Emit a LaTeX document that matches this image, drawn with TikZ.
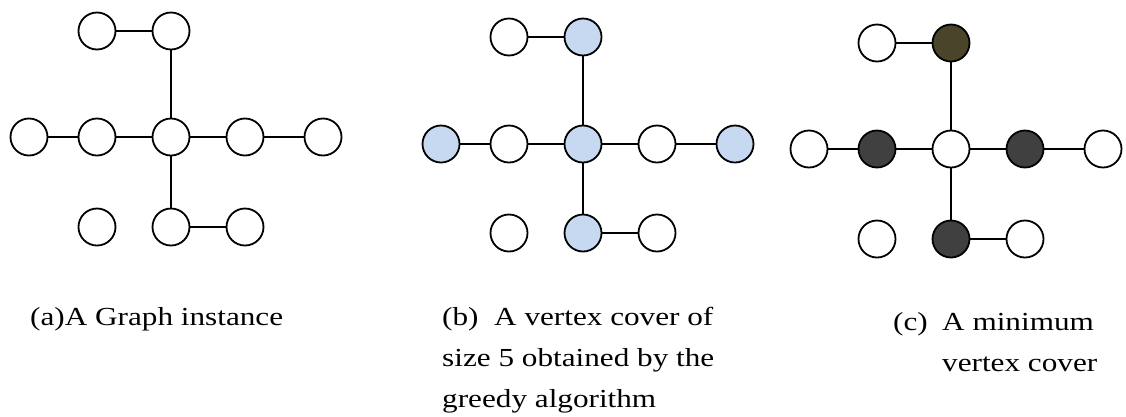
\documentclass[tikz,border=0pt]{standalone}
\usepackage{fontspec}
\usepackage{xcolor}
\usepackage{tikz}
\usetikzlibrary{positioning}
\setmainfont{Liberation Serif}
\newfontfamily\capfont[FakeStretch=1.2]{Liberation Serif}
\definecolor{coverblue}{HTML}{C6D9F1}
\definecolor{covergray}{HTML}{404040}
\definecolor{coverolive}{HTML}{4A442A}

\begin{document}
\begin{tikzpicture}[
    x=1pt, y=1pt,
    on grid, node distance=74pt,
    vtx/.style={circle, draw=black, fill=white, line width=1.8pt, minimum size=37pt, inner sep=0pt},
    greedy/.style={vtx, fill=coverblue},
    optimal/.style={vtx, fill=covergray},
    link/.style={line width=1.7pt},
    captxt/.style={font={\capfont\fontsize{26pt}{41pt}\selectfont}, align=left, inner sep=0pt, anchor=base west}
]
    \useasboundingbox (0,0) rectangle (1126,-416);

    % Graph (a): the instance
    \node (ac) [vtx] at (171,-137) {};
    \node (al) [vtx, left=of ac] {};
    \node (all) [vtx, left=68pt of al] {};
    \node (ar) [vtx, right=of ac] {};
    \node (arr) [vtx, right=78pt of ar] {};
    \node (at) [vtx, above=106pt of ac] {};
    \node (atl) [vtx, left=of at] {};
    \node (ab) [vtx, below=90pt of ac] {};
    \node (abr) [vtx, right=of ab] {};
    \node (abl) [vtx, left=of ab] {};
    \draw [link] (atl) -- (at) -- (ac) -- (ab) -- (abr);
    \draw [link] (all) -- (al) -- (ac) -- (ar) -- (arr);

    % Graph (b): greedy cover
    \node (bc) [greedy] at (583,-144) {};
    \node (bl) [vtx, left=of bc] {};
    \node (bll) [greedy, left=68pt of bl] {};
    \node (br) [vtx, right=of bc] {};
    \node (brr) [greedy, right=78pt of br] {};
    \node (bt) [greedy, above=107pt of bc] {};
    \node (btl) [vtx, left=of bt] {};
    \node (bb) [greedy, below=89pt of bc] {};
    \node (bbr) [vtx, right=of bb] {};
    \node (bbl) [vtx, left=of bb] {};
    \draw [link] (btl) -- (bt) -- (bc) -- (bb) -- (bbr);
    \draw [link] (bll) -- (bl) -- (bc) -- (br) -- (brr);

    % Graph (c): minimum cover
    \node (cc) [vtx] at (951,-149) {};
    \node (cl) [optimal, left=of cc] {};
    \node (cll) [vtx, left=68pt of cl] {};
    \node (cr) [optimal, right=of cc] {};
    \node (crr) [vtx, right=78pt of cr] {};
    \node (ct) [optimal, fill=coverolive, above=106pt of cc] {};
    \node (ctl) [vtx, left=of ct] {};
    \node (cb) [optimal, below=90pt of cc] {};
    \node (cbr) [vtx, right=of cb] {};
    \node (cbl) [vtx, left=of cb] {};
    \draw [link] (ctl) -- (ct) -- (cc) -- (cb) -- (cbr);
    \draw [link] (cll) -- (cl) -- (cc) -- (cr) -- (crr);

    % Captions (base = last line)
    \node (capa) [captxt] at (30,-325) {(a)A Graph instance};
    \node (capb) [captxt] at (442,-407) {(b)\ \ A vertex cover of\\size 5 obtained by the\\greedy algorithm};
    \node (capctag) [captxt] at (893,-330) {(c)};
    \node (capc) [captxt] at (942,-371) {A minimum\\vertex cover};
\end{tikzpicture}
\end{document}
